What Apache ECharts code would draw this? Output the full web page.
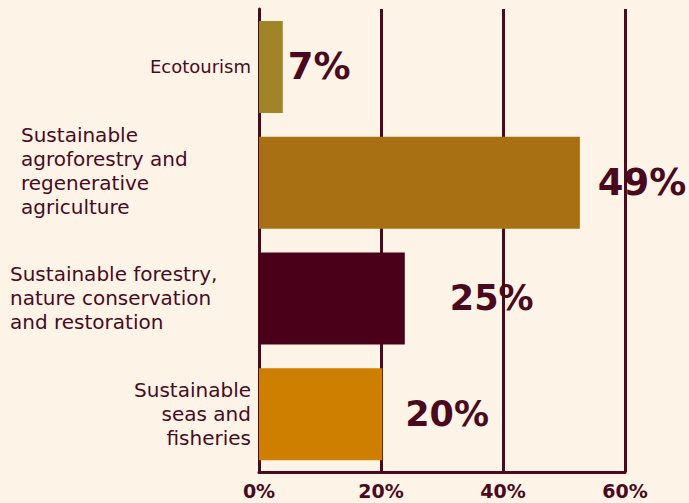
<!DOCTYPE html>
<html>
<head>
<meta charset="utf-8">
<script src="https://cdn.jsdelivr.net/npm/echarts@6/dist/echarts.min.js"></script>
<style>
html,body{margin:0;padding:0;background:#fdf4e7;}
#c{width:689px;height:503px;}
</style>
</head>
<body>
<div id="c"></div>
<script>
// Categories (top to bottom)
const categories = [
  'Ecotourism',
  'Sustainable\nagroforestry and\nregenerative\nagriculture',
  'Sustainable forestry,\nnature conservation\nand restoration',
  'Sustainable\nseas and\nfisheries'
];
// Bar lengths as drawn in the picture (percent of axis)
const barValues = [3.9, 52.6, 23.9, 20.2];
// Printed value labels
const valueLabels = ['7%', '49%', '25%', '20%'];
// X axis ticks
const xTicks = [0, 20, 40, 60];

const barColors = ['#a08428', '#a87012', '#4a0019', '#cf7f00'];
const labelDistances = [5, 18, 45, 23];
const labelSizes = [37, 37, 35, 35];
const dark = '#4a0a1e';

const chart = echarts.init(document.getElementById('c'), null, {renderer: 'svg'});

const yData = categories.map((c, i) => {
  if (i === 1) return {value: c, textStyle: {padding: [0, 0, 24, 0]}};
  return c;
});

chart.setOption({
  backgroundColor: '#fdf4e7',
  animation: false,
  grid: {left: 259, right: 64, top: 9, bottom: 31, containLabel: false},
  xAxis: {
    type: 'value',
    min: xTicks[0],
    max: xTicks[xTicks.length - 1],
    interval: xTicks[1] - xTicks[0],
    axisLine: {show: true, lineStyle: {color: dark, width: 3}},
    axisTick: {show: false},
    splitLine: {show: true, lineStyle: {color: dark, width: 3}},
    axisLabel: {
      formatter: '{value}%',
      color: dark,
      fontFamily: 'DejaVu Sans',
      fontWeight: 'bold',
      fontSize: 19,
      margin: 9
    }
  },
  yAxis: {
    type: 'category',
    inverse: true,
    data: yData,
    axisLine: {show: true, lineStyle: {color: dark, width: 3}},
    axisTick: {show: false},
    axisLabel: {
      margin: 8,
      color: dark,
      fontFamily: 'DejaVu Sans',
      formatter: function (v, i) { return '{k' + i + '|' + v + '}'; },
      rich: {
        k0: {fontSize: 18, fontFamily: 'DejaVu Sans', color: dark, align: 'right'},
        k1: {fontSize: 20, fontFamily: 'DejaVu Sans', color: dark, lineHeight: 24, width: 230, align: 'left'},
        k2: {fontSize: 20, fontFamily: 'DejaVu Sans', color: dark, lineHeight: 24, width: 241, align: 'left'},
        k3: {fontSize: 20, fontFamily: 'DejaVu Sans', color: dark, lineHeight: 24, align: 'right'}
      }
    }
  },
  series: [{
    type: 'bar',
    barWidth: 92,
    data: barValues.map((v, i) => ({
      value: v,
      itemStyle: {color: barColors[i]},
      label: {distance: labelDistances[i], fontSize: labelSizes[i]}
    })),
    label: {
      show: true,
      position: 'right',
      color: dark,
      fontFamily: 'DejaVu Sans',
      fontWeight: 'bold',
      fontSize: 36,
      formatter: function (p) { return valueLabels[p.dataIndex]; }
    }
  }]
});
</script>
</body>
</html>
